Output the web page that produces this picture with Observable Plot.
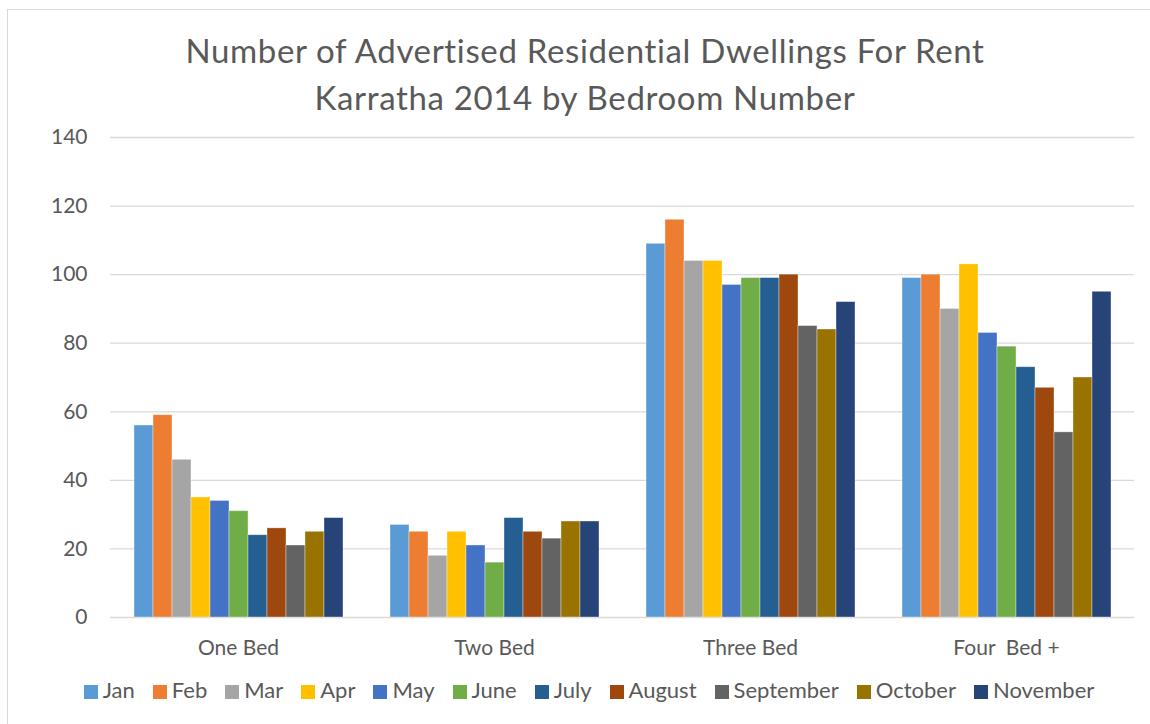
<!DOCTYPE html>
<html>
<head>
<meta charset="utf-8">
<script src="https://cdn.jsdelivr.net/npm/d3@7"></script>
<script src="https://cdn.jsdelivr.net/npm/@observablehq/plot@0.6"></script>
<style>
  html, body { margin: 0; padding: 0; background: #fff; }
  body { width: 1150px; height: 724px; position: relative; overflow: hidden; font-family: Lato, "Open Sans", sans-serif; color: #595959; }
  #frame { position: absolute; left: 7px; top: 9px; width: 1200px; height: 800px; border-left: 1px solid #d9d9d9; border-top: 1px solid #d9d9d9; }
  #title { position: absolute; left: 7px; width: 1156px; top: 27px; text-align: center; font-size: 33px; letter-spacing: 0.65px; line-height: 46.7px; color: #595959; }
  #chart { position: absolute; left: 0; top: 115px; }
  #legend { position: absolute; left: 11px; width: 1156px; top: 678px; display: flex; justify-content: center; font-size: 22px; line-height: 24px; }
  .item { display: flex; align-items: center; margin: 0 9px; }
  .sw { width: 14px; height: 14px; margin-right: 5px; position: relative; top: 2px; }
</style>
</head>
<body>
<div id="frame"></div>
<div id="title">Number of Advertised Residential Dwellings For Rent<br>Karratha 2014 by Bedroom Number</div>
<div id="chart"></div>
<div id="legend"></div>
<script>
const categories = ["One Bed", "Two Bed", "Three Bed", "Four  Bed +"];
const months = ["Jan", "Feb", "Mar", "Apr", "May", "June", "July", "August", "September", "October", "November"];
const colors = ["#5B9BD5", "#ED7D31", "#A5A5A5", "#FFC000", "#4472C4", "#70AD47", "#255E91", "#9E480E", "#636363", "#997300", "#264478"];
const oneBed   = [56, 59, 46, 35, 34, 31, 24, 26, 21, 25, 29];
const twoBed   = [27, 25, 18, 25, 21, 16, 29, 25, 23, 28, 28];
const threeBed = [109, 116, 104, 104, 97, 99, 99, 100, 85, 84, 92];
const fourBed  = [99, 100, 90, 103, 83, 79, 73, 67, 54, 70, 95];
const yTicks = [0, 20, 40, 60, 80, 100, 120, 140];

const series = [oneBed, twoBed, threeBed, fourBed];
const data = [];
categories.forEach((c, i) => months.forEach((m, j) => data.push({category: c, month: m, value: series[i][j]})));

const chart = Plot.plot({
  width: 1150,
  height: 555,
  marginLeft: 109,
  marginRight: 15,
  marginTop: 22,
  marginBottom: 53,
  style: { fontFamily: "Lato, 'Open Sans', sans-serif", fontSize: "21px", color: "#595959", background: "transparent" },
  fx: { domain: categories, padding: 0, label: null },
  x: { domain: months, paddingInner: 0, paddingOuter: 1.135, axis: null },
  y: { domain: [0, 140], label: null },
  color: { domain: months, range: colors },
  marks: [
    Plot.gridY(yTicks, { stroke: "#d9d9d9", strokeOpacity: 1, strokeWidth: 1.3 }),
    Plot.axisY(yTicks, { tickSize: 0, tickPadding: 23, label: null, fill: "#595959", fontSize: 21 }),
    Plot.axisFx({ anchor: "bottom", tickSize: 0, tickPadding: 23, label: null, fill: "#595959", fontSize: 21 }),
    Plot.barY(data, { fx: "category", x: "month", y: "value", fill: "month", stroke: "white", strokeOpacity: 0.45, strokeWidth: 0.8 })
  ]
});
document.getElementById("chart").appendChild(chart);

const legend = document.getElementById("legend");
months.forEach((m, i) => {
  const it = document.createElement("div");
  it.className = "item";
  const sw = document.createElement("span");
  sw.className = "sw";
  sw.style.background = colors[i];
  const t = document.createElement("span");
  t.textContent = m;
  it.appendChild(sw);
  it.appendChild(t);
  legend.appendChild(it);
});
</script>
</body>
</html>
